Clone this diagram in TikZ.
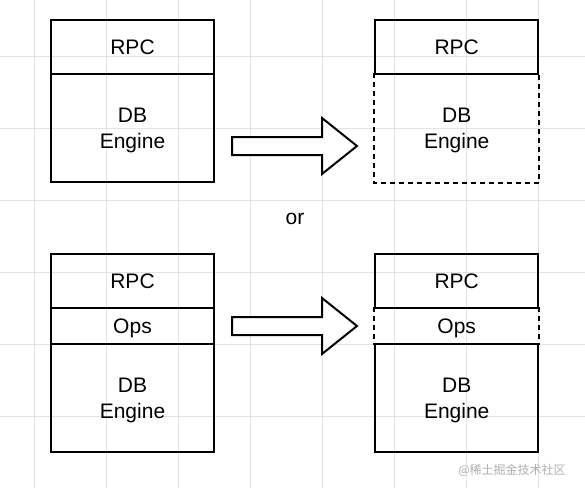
\documentclass[tikz,border=0pt]{standalone}
\usepackage{fontspec}
\setmainfont{Liberation Sans}
\newfontfamily\cjkfont{Noto Sans CJK SC}
\usetikzlibrary{positioning}

\tikzset{every picture/.style={line width=2pt}}
\tikzset{
	layer/.style={minimum width=163pt, inner sep=0pt, align=center, text height=15pt, text depth=0pt, font=\fontsize{21}{25.5}\selectfont},
	solidlayer/.style={layer, draw},
	dbtext/.style={align=center, inner sep=0pt, yshift=-2.5pt, font=\fontsize{21}{25.5}\selectfont},
	gridline/.style={draw={rgb, 255:red, 228; green, 228; blue, 228}, line width=0.8pt},
	blockarrow/.style={draw, fill=white, line join=miter},
	dashside/.style={dash pattern=on 5pt off 4pt},
}

\begin{document}
\begin{tikzpicture}[x=1pt,y=1pt,yscale=-1,xscale=1]
	\useasboundingbox (0,0) rectangle (585,488);
	\fill[white] (0,0) rectangle (585,488);

	%Grid
	\foreach \gx in {34,106,178,250,322,394,466,538}
		\draw[gridline] (\gx,0) -- (\gx,488);
	\foreach \gy in {56,128,200,272,344,416}
		\draw[gridline] (0,\gy) -- (585,\gy);

	%Top left stack
	\node[solidlayer, minimum height=54pt] (rpcA) at (132.5,47) {RPC};
	\node[solidlayer, minimum height=108pt, label={[dbtext]center:{DB\\Engine}}] (dbA) at (132.5,128) {};

	%Top right stack
	\node[solidlayer, minimum height=54pt] (rpcB) at (456.7,47) {RPC};
	\node[layer, minimum height=108pt, label={[dbtext]center:{DB\\Engine}}] (dbB) at (456.7,128) {};
	\draw[dashside] (dbB.north west) -- (dbB.south west) -- (dbB.south east) -- (dbB.north east);

	%Top arrow
	\coordinate (tailA) at (232,146);
	\draw[blockarrow] ([yshift=-9pt]tailA) -- ++(90,0) -- ++(0,-19) -- ++(35,28) -- ++(-35,28) -- ++(0,-19) -- ++(-90,0) -- cycle;

	% Text Node
	\node[font=\fontsize{21}{25.5}\selectfont] (orText) at (295,219) {or};

	%Bottom left stack
	\node[solidlayer, minimum height=54.6pt] (rpcC) at (132.5,281) {RPC};
	\node[solidlayer, minimum height=36pt] (opsC) at (132.5,326.3) {Ops};
	\node[solidlayer, minimum height=107.4pt, label={[dbtext]center:{DB\\Engine}}] (dbC) at (132.5,398) {};

	%Bottom right stack
	\node[solidlayer, minimum height=54.6pt] (rpcD) at (456.7,281) {RPC};
	\node[layer, minimum height=36pt] (opsD) at (456.7,326.3) {Ops};
	\node[solidlayer, minimum height=107.4pt, label={[dbtext]center:{DB\\Engine}}] (dbD) at (456.7,398) {};
	\draw[dashside] (opsD.north west) -- (opsD.south west);
	\draw[dashside] (opsD.north east) -- (opsD.south east);

	%Bottom arrow
	\coordinate (tailC) at (232,326);
	\draw[blockarrow] ([yshift=-9pt]tailC) -- ++(90,0) -- ++(0,-19) -- ++(35,28) -- ++(-35,28) -- ++(0,-19) -- ++(-90,0) -- cycle;

	% Text Node
	\node[text={rgb, 255:red, 175; green, 175; blue, 175}, font=\cjkfont\fontsize{12}{14}\selectfont, anchor=east] (mark) at (570,470) {@稀土掘金技术社区};
\end{tikzpicture}
\end{document}
